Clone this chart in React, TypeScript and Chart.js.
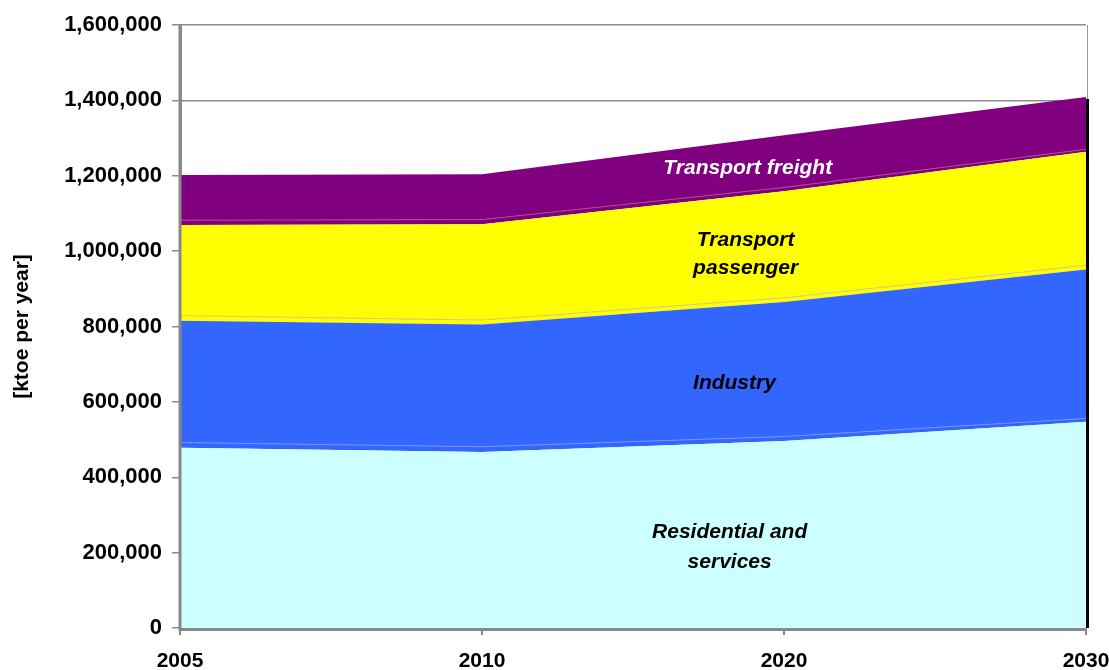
import React, { useEffect, useRef } from "react";
import { Chart, registerables } from "chart.js";

Chart.register(...registerables);

const years = ["2005", "2010", "2020", "2030"];
const residential = [478000, 467000, 496000, 547000];
const industryEdge = [14000, 14000, 12000, 9000];
const industry = [323000, 324000, 357000, 395500];
const passengerEdge = [14000, 12000, 11000, 11000];
const passenger = [240000, 254600, 283000, 300900];
const freightEdge = [13000, 12000, 10000, 7000];
const freight = [120000, 120400, 138700, 138600];
const yTickValues = [0, 200000, 400000, 600000, 800000, 1000000, 1200000, 1400000, 1600000];

const areaLabels = [
  { text: "Transport freight", x: 1.88, y: 1220000, color: "#ffffff" },
  { text: "Transport", x: 1.873, y: 1029000, color: "#000000" },
  { text: "passenger", x: 1.873, y: 955000, color: "#000000" },
  { text: "Industry", x: 1.836, y: 650000, color: "#000000" },
  { text: "Residential and", x: 1.82, y: 254600, color: "#000000" },
  { text: "services", x: 1.82, y: 175000, color: "#000000" },
];

const FONT = "'Liberation Sans', Arial, sans-serif";

const area = (label: string, data: number[], color: string, fill: any, edge?: string) => ({
  label,
  data,
  backgroundColor: color,
  borderColor: edge || color,
  borderWidth: edge ? 1 : 0,
  pointRadius: 0,
  tension: 0,
  fill,
});

const extrasPlugin = {
  id: "extras",
  beforeDatasetsDraw(chart: any) {
    const { ctx, chartArea } = chart;
    ctx.save();
    ctx.strokeStyle = "#999999";
    ctx.lineWidth = 1;
    ctx.beginPath();
    ctx.moveTo(chartArea.right + 1.5, chartArea.top);
    ctx.lineTo(chartArea.right + 1.5, chartArea.bottom);
    ctx.stroke();
    ctx.restore();
  },
  afterDatasetsDraw(chart: any) {
    const { ctx, scales } = chart;
    const x = scales.x;
    const y = scales.y;
    const last = years.length - 1;
    const total =
      residential[last] + industryEdge[last] + industry[last] + passengerEdge[last] +
      passenger[last] + freightEdge[last] + freight[last];
    ctx.save();
    ctx.strokeStyle = "#888888";
    ctx.lineWidth = 3;
    ctx.beginPath();
    ctx.moveTo(x.left, y.top);
    ctx.lineTo(x.left, y.bottom + 1.5);
    ctx.lineTo(x.right, y.bottom + 1.5);
    ctx.stroke();

    ctx.strokeStyle = "#000000";
    ctx.lineWidth = 3;
    ctx.beginPath();
    const px = x.getPixelForValue(last) + 1.5;
    ctx.moveTo(px, y.getPixelForValue(total) + 2);
    ctx.lineTo(px, y.getPixelForValue(0));
    ctx.stroke();

    ctx.font = `italic bold 21px ${FONT}`;
    ctx.textAlign = "center";
    ctx.textBaseline = "middle";
    for (const l of areaLabels) {
      ctx.fillStyle = l.color;
      const lx = x.left + (x.right - x.left) * (l.x / last);
      ctx.fillText(l.text, lx, y.getPixelForValue(l.y));
    }
    ctx.restore();
  },
};

export default function App() {
  const ref = useRef<HTMLCanvasElement>(null);
  useEffect(() => {
    if (!ref.current) return;
    const chart = new Chart(ref.current, {
      type: "line",
      data: {
        labels: years,
        datasets: [
          area("Residential and services", residential, "#CCFFFF", "origin"),
          area("Industry edge", industryEdge, "#3366FF", "-1", "#6f95ff"),
          area("Industry", industry, "#3366FF", "-1"),
          area("Transport passenger edge", passengerEdge, "#FFFF00", "-1", "#c9c98a"),
          area("Transport passenger", passenger, "#FFFF00", "-1"),
          area("Transport freight edge", freightEdge, "#800080", "-1", "#a8507e"),
          area("Transport freight", freight, "#800080", "-1"),
        ] as any,
      },
      options: {
        animation: false,
        responsive: false,
        layout: { autoPadding: false, padding: { top: 25, right: 23, left: 0, bottom: 0 } },
        plugins: {
          legend: { display: false },
          tooltip: { enabled: false },
        },
        scales: {
          x: {
            type: "category",
            offset: false,
            grid: { drawOnChartArea: false, drawTicks: true, tickLength: 7, color: "#888888", lineWidth: 2 },
            border: { color: "#888888", width: 3 },
            ticks: { color: "#000", font: { family: FONT, size: 21, weight: "bold" }, padding: 14, maxRotation: 0 },
            afterFit: (s: any) => {
              s.height = 42;
              s.paddingLeft = 0;
              s.paddingRight = 0;
            },
          },
          y: {
            stacked: true,
            min: 0,
            max: 1600000,
            afterBuildTicks: (s: any) => { s.ticks = yTickValues.map((v) => ({ value: v })); },
            grid: { color: "#8c8c8c", lineWidth: 1.5, tickLength: 8, drawOnChartArea: true },
            border: { color: "#888888", width: 3 },
            ticks: {
              color: "#000",
              font: { family: FONT, size: 22, weight: "bold" },
              padding: 10,
              callback: (v: any) => Number(v).toLocaleString("en-US"),
            },
            title: {
              display: true,
              text: "[ktoe per year]",
              color: "#000",
              font: { family: FONT, size: 21, weight: "bold" },
              padding: { top: 10, bottom: 0 },
            },
            afterFit: (s: any) => { s.width = 180; },
          },
        } as any,
      },
      plugins: [extrasPlugin],
    });
    return () => chart.destroy();
  }, []);
  return (
    <div style={{ position: "fixed", left: 0, top: 0, width: 1109, height: 670, background: "#fff" }}>
      <canvas ref={ref} width={1109} height={670} />
    </div>
  );
}
